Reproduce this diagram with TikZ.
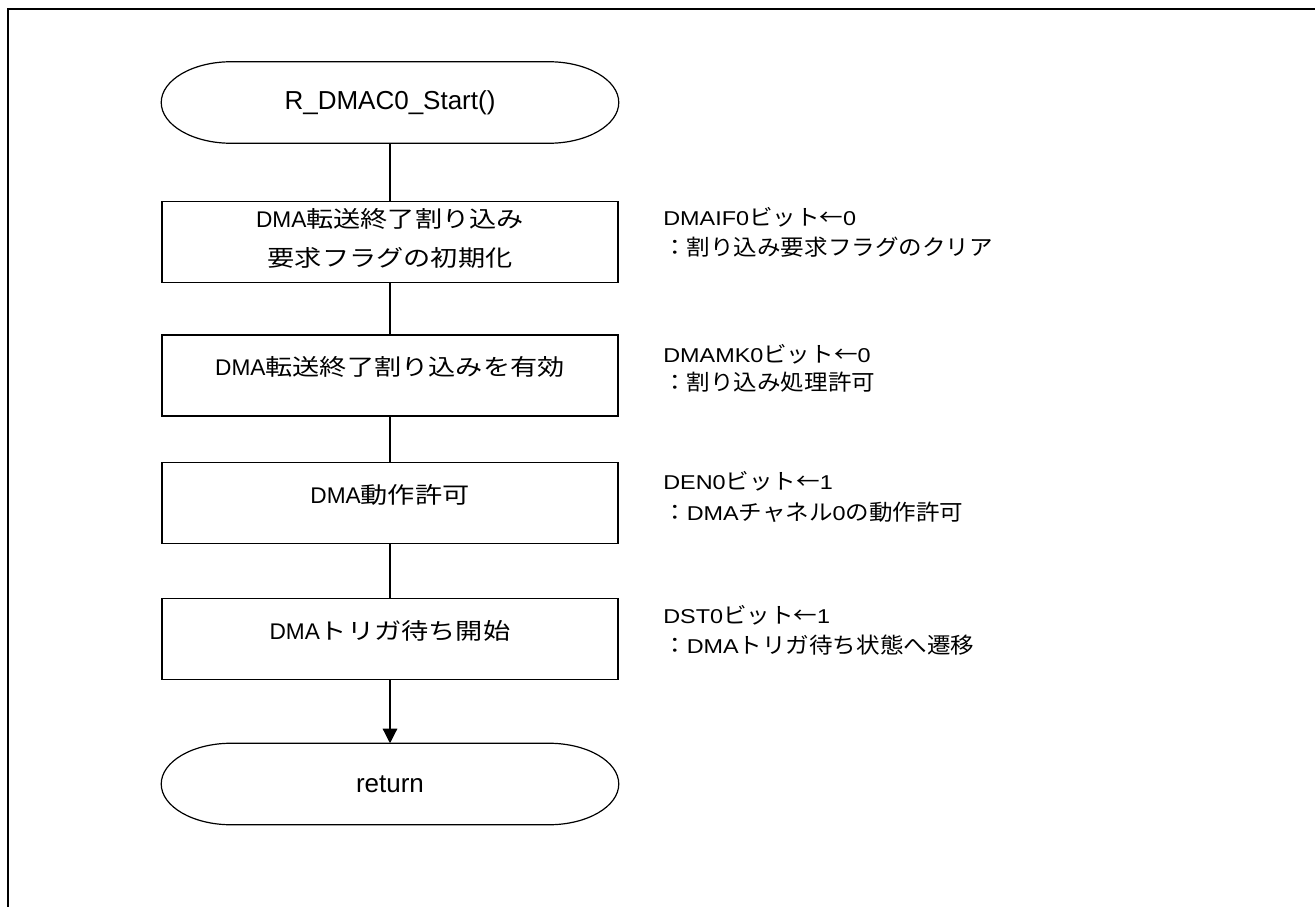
\documentclass[tikz,border=0pt]{standalone}
\usepackage{fontspec}
\setmainfont{Liberation Sans}
\newfontfamily\bl{Liberation Sans}
\newfontfamily\jp[Scale=1.0,FakeStretch=1.2]{Noto Sans CJK JP}
\newfontfamily\anl[FakeStretch=1.17]{Liberation Sans}
\newfontfamily\anj[Scale=1.1,FakeStretch=1.07]{Noto Sans CJK JP}
\usetikzlibrary{arrows.meta,calc}
\tikzset{
  stepbox/.style={draw, line width=0.9pt, minimum width=342pt, minimum height=60.75pt, inner sep=0pt},
  boxtext/.style={anchor=base, inner sep=0pt, font=\fontsize{17}{20}\selectfont\bl},
  termnode/.style={minimum width=342.75pt, minimum height=60.75pt, inner sep=0pt, font=\fontsize{19.5}{23}\selectfont},
  termline/.style={line width=0.9pt},
  note/.style={anchor=base west, inner sep=0pt, font=\fontsize{15}{18}\selectfont\anl},
  conn/.style={line width=0.9pt},
  frameline/.style={line width=1.5pt}
}
\newcommand\termoutline[1]{%
  \draw[termline] ($(#1.north west)+(70,0)$) -- ($(#1.north east)+(-70,0)$)
  .. controls ($(#1.north east)+(-31.3,0)$) and ($(#1.east)+(0,-22.4)$) .. (#1.east)
  .. controls ($(#1.east)+(0,22.4)$) and ($(#1.south east)+(-31.3,0)$) .. ($(#1.south east)+(-70,0)$)
  -- ($(#1.south west)+(70,0)$)
  .. controls ($(#1.south west)+(31.3,0)$) and ($(#1.west)+(0,22.4)$) .. (#1.west)
  .. controls ($(#1.west)+(0,-22.4)$) and ($(#1.north west)+(31.3,0)$) .. cycle;}
\begin{document}
\begin{tikzpicture}[x=0.75pt,y=-0.75pt]
\useasboundingbox (0,0) rectangle (1315,907);
\coordinate (fbl) at (8.3,907);
\coordinate (ftl) at (8.3,9.3);
\coordinate (ftr) at (1315,9.3);
\draw[frameline] (fbl) -- (ftl) -- (ftr);

\node[termnode] (start) at (390,102.5) {R\_DMAC0\_Start()};
\termoutline{start}

\node[stepbox] (b1) at (390,242) {};
\node[stepbox] (b2) at (390,375.5) {};
\node[stepbox] (b3) at (390,503) {};
\node[stepbox] (b4) at (390,639) {};
\node[boxtext] (t1a) at ([yshift=11pt]b1.center) {DMA{\jp 転送終了割り込み}};
\node[boxtext] (t1b) at ([yshift=-18pt]b1.center) {{\jp 要求フラグの初期化}};
\node[boxtext] (t2) at (b2.center) {DMA{\jp 転送終了割り込みを有効}};
\node[boxtext] (t3) at (b3.center) {DMA{\jp 動作許可}};
\node[boxtext] (t4) at (b4.center) {DMA{\jp トリガ待ち開始}};

\node[termnode] (ret) at (390,784) {return};
\termoutline{ret}

\draw[conn] (start.south) -- (b1.north);
\draw[conn] (b1.south) -- (b2.north);
\draw[conn] (b2.south) -- (b3.north);
\draw[conn] (b3.south) -- (b4.north);
\draw[conn,-{Triangle[length=11pt,width=11pt]}] (b4.south) -- (ret.north);

\node[note] (n1a) at (663,225) {DMAIF0{\anj ビット←}0};
\node[note] (n1b) at (663,255.5) {{\anj ：割り込み要求フラグのクリア}};
\node[note] (n2a) at (663,362) {DMAMK0{\anj ビット←}0};
\node[note] (n2b) at (663,390.5) {{\anj ：割り込み処理許可}};
\node[note] (n3a) at (663,489) {DEN0{\anj ビット←}1};
\node[note] (n3b) at (663,520) {{\anj ：}DMA{\anj チャネル}0{\anj の動作許可}};
\node[note] (n4a) at (663,623) {DST0{\anj ビット←}1};
\node[note] (n4b) at (663,653.5) {{\anj ：}DMA{\anj トリガ待ち状態へ遷移}};
\end{tikzpicture}
\end{document}
